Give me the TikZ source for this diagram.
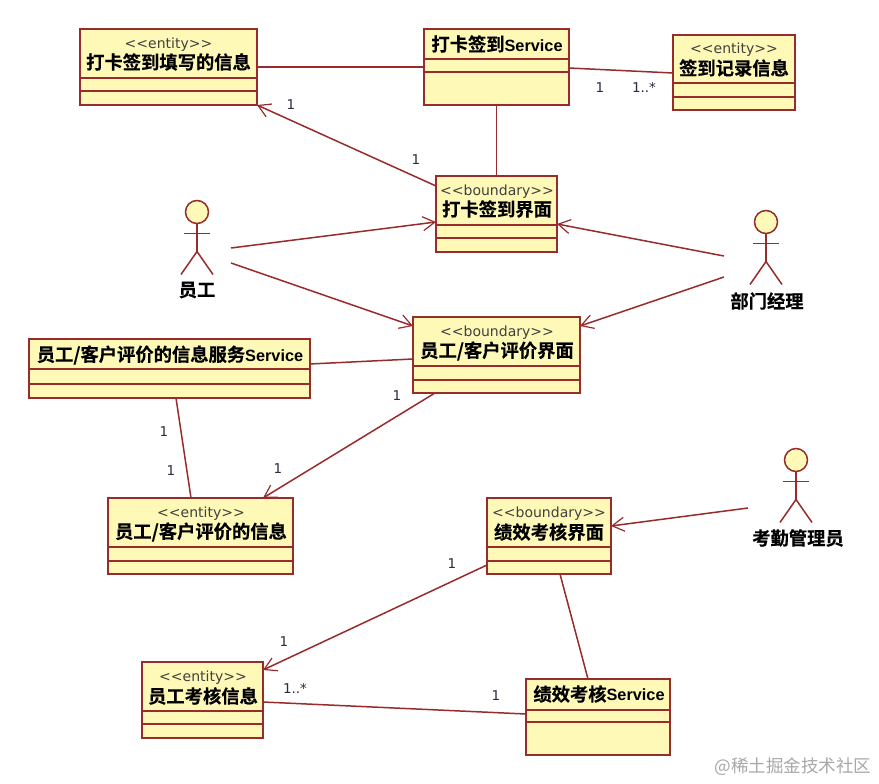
\documentclass[tikz,border=0pt]{standalone}
\usepackage{fontspec}
\usetikzlibrary{arrows.meta}
\newfontfamily\cjkb[FakeBold=0.4]{Noto Sans CJK SC Bold}
\newfontfamily\cjkm{Noto Sans CJK SC}
\newfontfamily\latb[BoldFont={Liberation Sans Bold}]{Liberation Sans}
\newfontfamily\stfont{DejaVu Sans}
\newcommand{\svc}{{\latb\bfseries\fontsize{16.3}{18}\selectfont Service}}
\definecolor{umlline}{HTML}{982B2B}
\definecolor{umlfill}{HTML}{FFF9B8}
\definecolor{umllabel}{HTML}{2A2A40}
\definecolor{markgray}{HTML}{A8A8A8}
\tikzset{
  x=1pt,y=-1pt,
  classbox/.style={draw=umlline,fill=umlfill,line width=1.5pt,inner sep=0pt,outer sep=0pt,anchor=north west},
  divider/.style={draw=umlline,line width=1.5pt},
  titletext/.style={inner sep=0pt,font=\cjkb\fontsize{18.3}{20}\selectfont,text=black},
  stereotext/.style={inner sep=0pt,font=\stfont\fontsize{14}{16}\selectfont,text=black!75},
  assoc/.style={draw=umlline,line width=1.5pt},
  nav/.style={assoc,-{Straight Barb[length=12pt,width=14pt,line width=1.2pt]}},
  multi/.style={inner sep=0pt,font=\stfont\fontsize{13.5}{15}\selectfont,text=umllabel},
  actorhead/.style={circle,draw=umlline,fill=umlfill,line width=1.5pt,minimum size=23pt,inner sep=0pt,outer sep=0pt},
  actorline/.style={draw=umlline,line width=1.5pt},
}
% name, x0, y0, x1, y1, div1, div2
\newcommand{\umlclass}[7]{%
  \pgfmathsetmacro{\bw}{#4-#2}\pgfmathsetmacro{\bh}{#5-#3}%
  \node[classbox,minimum width=\bw pt,minimum height=\bh pt] (#1) at (#2,#3) {};
  \draw[divider] (#2,#6) -- (#4,#6);
  \draw[divider] (#2,#7) -- (#4,#7);
}
% name, head x, head y
\newcommand{\umlactor}[3]{%
  \node[actorhead] (#1) at (#2,#3) {};
  \draw[actorline] (#1.south) -- ++(0,28) coordinate (#1-hip);
  \draw[actorline] ([yshift=-10pt]#1.south) ++(-13,0) -- ++(26,0);
  \draw[actorline] (#1-hip) -- ++(-16,23);
  \draw[actorline] (#1-hip) -- ++(16,23);
}
\begin{document}
\begin{tikzpicture}
\useasboundingbox (0,0) rectangle (879,784);
\fill[white] (0,0) rectangle (879,784);

% classes
\umlclass{fillinfo}{80}{29}{257}{105}{78}{91}
\umlclass{clocksvc}{424}{29}{569}{105}{59}{72}
\umlclass{record}{673}{35}{795}{110}{83}{97}
\umlclass{clockui}{436}{176}{557}{252}{225}{238}
\umlclass{evalui}{413}{317}{580}{393}{366}{380}
\umlclass{evalsvc}{29}{339}{310}{398}{369}{384}
\umlclass{evalinfo}{108}{498}{293}{574}{547}{561}
\umlclass{perfui}{487}{498}{611}{574}{547}{561}
\umlclass{perfinfo}{142}{662}{263}{738}{711}{724}
\umlclass{perfsvc}{526}{679}{670}{755}{710}{722}

% class texts
\node[stereotext] (t1s) at (168.5,45) {<<entity>>};
\node[titletext] (t1) at (168.5,62) {打卡签到填写的信息};
\node[titletext] (t2) at (497,44) {打卡签到\svc};
\node[stereotext] (t3s) at (734,50) {<<entity>>};
\node[titletext] (t3) at (734,68) {签到记录信息};
\node[stereotext] (t4s) at (497,192) {<<boundary>>};
\node[titletext] (t4) at (497,209) {打卡签到界面};
\node[stereotext] (t5s) at (497,333) {<<boundary>>};
\node[titletext] (t5) at (497,351) {员工/客户评价界面};
\node[titletext] (t6) at (170,355) {员工/客户评价的信息服务\svc};
\node[stereotext] (t7s) at (201,514) {<<entity>>};
\node[titletext] (t7) at (201,532) {员工/客户评价的信息};
\node[stereotext] (t8s) at (549,514) {<<boundary>>};
\node[titletext] (t8) at (549,532) {绩效考核界面};
\node[stereotext] (t9s) at (203,678) {<<entity>>};
\node[titletext] (t9) at (203,696) {员工考核信息};
\node[titletext] (t10) at (599,694) {绩效考核\svc};

% actors
\umlactor{emp}{197}{212}
\umlactor{mgr}{766}{222}
\umlactor{adm}{796}{460}
\node[titletext] (empname) at (197,290) {员工};
\node[titletext] (mgrname) at (767,301) {部门经理};
\node[titletext] (admname) at (798,538) {考勤管理员};

% free ends next to the actors
\coordinate (empa) at (231,248);
\coordinate (empb) at (231,263);
\coordinate (mgra) at (724,256);
\coordinate (mgrb) at (724,277);
\coordinate (adma) at (748,508);

% connectors
\draw[assoc] ([yshift=38pt]fillinfo.south east) -- ([yshift=38pt]clocksvc.south west);
\draw[assoc] ([yshift=37pt]clocksvc.south east) -- ([yshift=37pt]record.south west);
\draw[assoc] ([xshift=-72.5pt]clocksvc.south east) -- (clockui.north);
\draw[nav] ([yshift=-10pt]clockui.north west) -- (fillinfo.south east);
\draw[nav] (empa) -- ([yshift=-46pt]clockui.north west);
\draw[nav] (empb) -- ([yshift=-9pt]evalui.north west);
\draw[nav] (mgra) -- ([yshift=-48pt]clockui.north east);
\draw[nav] (mgrb) -- ([yshift=-9pt]evalui.north east);
\draw[assoc] ([yshift=-25pt]evalsvc.north east) -- ([yshift=-42pt]evalui.north west);
\draw[assoc] ([xshift=147pt]evalsvc.south west) -- ([xshift=83pt]evalinfo.north west);
\draw[nav] ([xshift=22pt]evalui.south west) -- ([xshift=155pt]evalinfo.north west);
\draw[nav] (adma) -- ([yshift=-28pt]perfui.north east);
\draw[nav] ([yshift=-67pt]perfui.north west) -- ([yshift=-8pt]perfinfo.north east);
\draw[assoc] ([xshift=73pt]perfui.south west) -- ([xshift=62pt]perfsvc.north west);
\draw[assoc] ([yshift=-40pt]perfinfo.north east) -- ([yshift=-35pt]perfsvc.north west);

% multiplicities
\node[multi] (m1) at (600,88) {1};
\node[multi] (m2) at (644,87) {1..*};
\node[multi] (m3) at (291,105) {1};
\node[multi] (m4) at (416,160) {1};
\node[multi] (m5) at (397,396) {1};
\node[multi] (m6) at (278,469) {1};
\node[multi] (m7) at (164,432) {1};
\node[multi] (m8) at (171,471) {1};
\node[multi] (m9) at (452,564) {1};
\node[multi] (m10) at (284,642) {1};
\node[multi] (m11) at (295,688) {1..*};
\node[multi] (m12) at (496,696) {1};

% site mark
\node[inner sep=0pt,font=\cjkm\fontsize{17.5}{19}\selectfont,text=markgray] (mark) at (793,767) {@稀土掘金技术社区};
\end{tikzpicture}
\end{document}
